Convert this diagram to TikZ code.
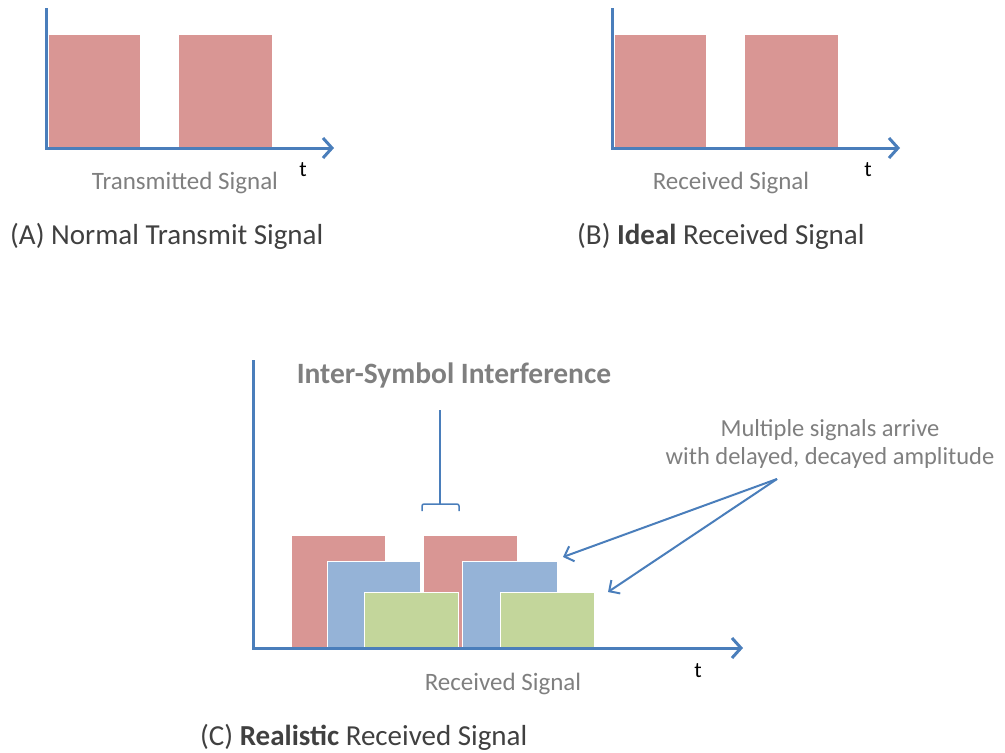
\documentclass[tikz,border=0pt]{standalone}
\usepackage{fontspec}
\setmainfont{Carlito}
\usetikzlibrary{arrows.meta}
\definecolor{axisblue}{HTML}{4A7EBB}
\definecolor{sigred}{HTML}{D99694}
\definecolor{sigblue}{HTML}{95B3D7}
\definecolor{siggreen}{HTML}{C3D69B}
\definecolor{labelgray}{HTML}{7F7F7F}
\definecolor{capgray}{HTML}{404040}
\begin{document}
\begin{tikzpicture}[x=1pt,y=-1pt,
  axisline/.style={draw=axisblue, line width=3pt, line join=miter,
    -{Straight Barb[length=9pt,width=20pt]}},
  pointer/.style={draw=axisblue, line width=2pt,
    -{Straight Barb[length=8pt,width=16pt]}},
  bar/.style={draw=white, line width=0.8pt},
  redbar/.style={bar, fill=sigred},
  bluebar/.style={bar, fill=sigblue},
  greenbar/.style={bar, fill=siggreen},
  sublabel/.style={text=labelgray, font=\fontsize{25}{30}\selectfont, inner sep=0pt},
  tlabel/.style={text=black, font=\fontsize{22}{26}\selectfont, inner sep=0pt},
  caption/.style={text=capgray, font=\fontsize{29}{34}\selectfont, inner sep=0pt, anchor=west},
  note/.style={text=labelgray, font=\fontsize{24.5}{28}\selectfont, inner sep=0pt, align=center},
  isilabel/.style={text=labelgray, font=\bfseries\fontsize{29.5}{34}\selectfont, inner sep=0pt}
]
\useasboundingbox (0,0) rectangle (1005,753);

% ---------- Panel A ----------
\fill[redbar] (48,34) rectangle (140,147);
\fill[redbar] (178,34) rectangle (272,147);
\coordinate (Atop) at (46,8);
\coordinate (Aorg) at (46,148);
\coordinate (Aend) at (334,148);
\draw[axisline] (Atop) -- (Aorg) -- (Aend);
\node[tlabel] (At) at (303,170) {t};
\node[sublabel] (Asub) at (185,183) {Transmitted Signal};
\node[caption] (Acap) at (10,236) {(A) Normal Transmit Signal};

% ---------- Panel B ----------
\fill[redbar] (614,34) rectangle (706,147);
\fill[redbar] (744,34) rectangle (838,147);
\coordinate (Btop) at (612,8);
\coordinate (Borg) at (612,148);
\coordinate (Bend) at (900,148);
\draw[axisline] (Btop) -- (Borg) -- (Bend);
\node[tlabel] (Bt) at (868,170) {t};
\node[sublabel] (Bsub) at (731,183) {Received Signal};
\node[caption] (Bcap) at (577,236) {(B) \textbf{Ideal} Received Signal};

% ---------- Panel C ----------
\fill[redbar] (291,535) rectangle (385,648);
\fill[redbar] (423,535) rectangle (517,648);
\fill[bluebar] (327,561) rectangle (420,648);
\fill[bluebar] (462,561) rectangle (557,648);
\fill[greenbar] (364,592) rectangle (458,648);
\fill[greenbar] (500,592) rectangle (594,648);
\coordinate (Ctop) at (253,360);
\coordinate (Corg) at (253,648);
\coordinate (Cend) at (743,648);
\draw[axisline] (Ctop) -- (Corg) -- (Cend);
\node[tlabel] (Ct) at (698,671) {t};
\node[sublabel] (Csub) at (503,684) {Received Signal};
\node[caption] (Ccap) at (200,737) {(C) \textbf{Realistic} Received Signal};

% ISI label and bracket
\node[isilabel] (isi) at (454,375) {Inter-Symbol Interference};
\coordinate (brtop) at (440,410);
\coordinate (brmid) at (440,504);
\draw[draw=axisblue, line width=1.5pt] (brtop) -- (brmid);
\draw[draw=axisblue, line width=1.5pt, rounded corners=2pt]
  (422,511) -- (422,504) -- (459,504) -- (459,511);

% Multipath note and pointers
\node[note] (multi) at (830,444) {Multiple signals arrive\\with delayed, decayed amplitude};
\coordinate (src) at (777,479);
\coordinate (blueTip) at (563,557);
\coordinate (greenTip) at (608,592);
\draw[pointer] (src) -- (blueTip);
\draw[pointer] (src) -- (greenTip);
\end{tikzpicture}
\end{document}
